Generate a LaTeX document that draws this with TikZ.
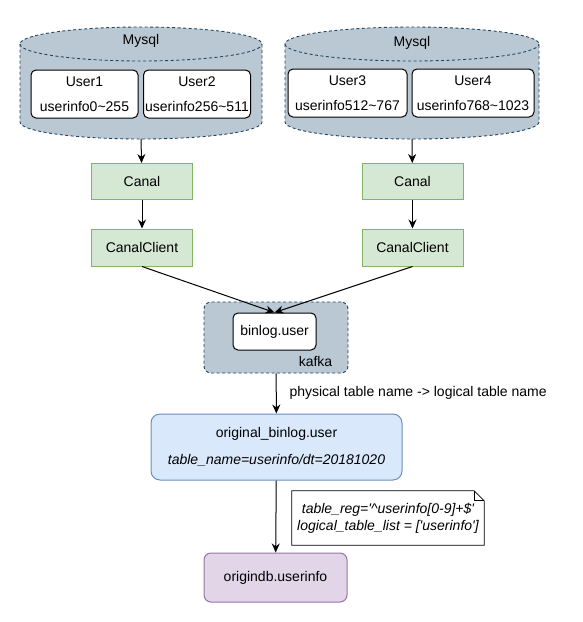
\documentclass[tikz,border=0pt]{standalone}
\usepackage{fontspec}
\setmainfont{Liberation Sans}
\usetikzlibrary{arrows.meta, positioning}
\definecolor{dbfill}{HTML}{BAC8D3}
\definecolor{dbdraw}{HTML}{23445D}
\definecolor{greenfill}{HTML}{D5E8D4}
\definecolor{greendraw}{HTML}{82B366}
\definecolor{bluefill}{HTML}{DAE8FC}
\definecolor{bluedraw}{HTML}{6C8EBF}
\definecolor{purplefill}{HTML}{E1D5E7}
\definecolor{purpledraw}{HTML}{9673A6}
\tikzset{
  database/.style={
    fill=dbfill, draw=dbdraw, dash pattern=on 3pt off 2.5pt, line width=0.9pt
  },
  userbox/.style={
    rectangle, rounded corners=5pt, minimum width=107pt, minimum height=48pt,
    inner sep=0pt, align=center, draw=black, fill=white, line width=1pt,
    font=\fontsize{14}{25}\selectfont
  },
  canal/.style={
    rectangle, minimum width=101pt, minimum height=36pt,
    text centered, draw=greendraw, fill=greenfill, line width=1pt
  },
  kafkabox/.style={
    rectangle, rounded corners=7pt, minimum width=144pt, minimum height=71pt,
    draw=dbdraw, fill=dbfill, dash pattern=on 3pt off 2.5pt, line width=0.9pt
  },
  topic/.style={
    rectangle, rounded corners=5pt, minimum width=83pt, minimum height=37pt,
    text centered, draw=black, fill=white, line width=1pt
  },
  hivetable/.style={
    rectangle, rounded corners=9pt, minimum width=251pt, minimum height=66pt,
    inner sep=0pt, align=center, draw=bluedraw, fill=bluefill, line width=1pt,
    font=\fontsize{14}{27}\selectfont
  },
  originbox/.style={
    rectangle, rounded corners=7pt, minimum width=143pt, minimum height=49pt,
    text centered, draw=purpledraw, fill=purplefill, line width=1pt
  },
  notebox/.style={
    rectangle, minimum width=192pt, minimum height=54pt, inner sep=0pt,
    align=center, font=\fontsize{14}{17}\selectfont\itshape
  },
  arrow/.style={
    -{Stealth[length=9pt,width=8pt]}, line width=1pt, black
  }
}

\begin{document}
\begin{tikzpicture}[x=1pt, y=-1pt, every node/.style={font=\fontsize{14}{17}\selectfont}]
    \useasboundingbox (0,0) rectangle (583,622);

    % Mysql cylinders
    \draw[database] (20,44) -- (20,122) arc[start angle=180, end angle=0, x radius=121, y radius=17]
      -- (262,44) arc[start angle=0, end angle=-180, x radius=121, y radius=17] -- cycle;
    \draw[database] (20,44) arc[start angle=180, end angle=0, x radius=121, y radius=17];
    \node (mysqlA) at (141,41) {Mysql};
    \coordinate (dbA) at (141,139);

    \draw[database] (285,44) -- (285,122) arc[start angle=180, end angle=0, x radius=127, y radius=17]
      -- (539,44) arc[start angle=0, end angle=-180, x radius=127, y radius=17] -- cycle;
    \draw[database] (285,44) arc[start angle=180, end angle=0, x radius=127, y radius=17];
    \node (mysqlB) at (412,43) {Mysql};
    \coordinate (dbB) at (412,139);

    % Shards
    \node[userbox] (user1) at (84.5,94) {User1\\userinfo0\textasciitilde255};
    \node[userbox] (user2) at (197,94) {User2\\userinfo256\textasciitilde511};
    \node[userbox, minimum width=119pt] (user3) at (347.5,93) {User3\\userinfo512\textasciitilde767};
    \node[userbox, minimum width=122pt] (user4) at (473,93) {User4\\userinfo768\textasciitilde1023};

    % Canal blocks
    \node[canal] (canalA) at (142,181.5) {Canal};
    \node[canal] (canalB) at (412.5,181.5) {Canal};
    \node[canal, minimum height=37pt] (clientA) at (142,247.5) {CanalClient};
    \node[canal, minimum height=37pt] (clientB) at (412.5,247.5) {CanalClient};

    % Kafka
    \node[kafkabox] (kafka) at (276,337.5) {};
    \node[topic] (binlog) at (274.5,331.5) {binlog.user};
    \node (kafkalabel) at (315.5,361) {kafka};

    % Tables
    \node[hivetable] (original) at (276.5,447) {original\_binlog.user\\\textit{table\_name=userinfo/dt=20181020}};
    \node[originbox] (origindb) at (275.5,577.5) {origindb.userinfo};

    % Note
    \node[notebox] (note) at (388,518) {table\_reg=\textquotesingle\textasciicircum userinfo[0-9]+\$\textquotesingle\\logical\_table\_list = [\textquotesingle userinfo\textquotesingle]};
    \draw[line width=0.8pt] (note.north west) -- ([xshift=-10pt]note.north east)
      -- ([yshift=-10pt]note.north east) -- (note.south east) -- (note.south west) -- cycle;
    \draw[line width=0.8pt] ([xshift=-10pt]note.north east) -- ([xshift=-10pt,yshift=-10pt]note.north east)
      -- ([yshift=-10pt]note.north east);

    % Flow arrows
    \draw[arrow] (dbA) -- (canalA);
    \draw[arrow] (dbB) -- (canalB);
    \draw[arrow] (canalA) -- (clientA);
    \draw[arrow] (canalB) -- (clientB);
    \draw[arrow] (clientA.south) -- (binlog.north);
    \draw[arrow] (clientB.south) -- (binlog.north);
    \draw[arrow] (kafka) -- (original);
    \draw[arrow] (original) -- (origindb);

    % Flow label
    \node[anchor=west] (maplabel) at (286,393) {physical table name -> logical table name};

\end{tikzpicture}
\end{document}
